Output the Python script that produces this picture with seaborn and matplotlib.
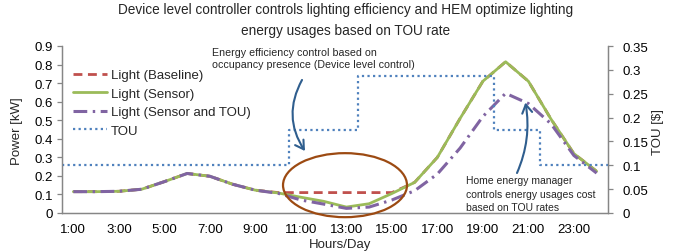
import matplotlib
matplotlib.use("Agg")
import matplotlib.pyplot as plt
from matplotlib.patches import Ellipse
import seaborn as sns
import pandas as pd

# --- data (hourly) ---
hours = list(range(1, 25))
hour_labels = [f"{h}:00" for h in hours]

light_baseline = [0.115, 0.115, 0.117, 0.128, 0.169, 0.213, 0.198, 0.155, 0.123, 0.11,
                  0.11, 0.11, 0.11, 0.11, 0.11, 0.165, 0.30, 0.51, 0.71, 0.815,
                  0.71, 0.505, 0.32, 0.225]
light_sensor = [0.115, 0.115, 0.117, 0.128, 0.169, 0.213, 0.198, 0.155, 0.123, 0.108,
                0.085, 0.063, 0.032, 0.05, 0.105, 0.165, 0.30, 0.51, 0.71, 0.815,
                0.71, 0.505, 0.32, 0.225]
light_sensor_tou = [0.115, 0.115, 0.117, 0.128, 0.169, 0.213, 0.198, 0.155, 0.123, 0.106,
                    0.07, 0.048, 0.025, 0.032, 0.07, 0.12, 0.21, 0.35, 0.52, 0.645,
                    0.59, 0.48, 0.31, 0.215]
tou_rate = [0.1] * 10 + [0.175] * 3 + [0.288] * 6 + [0.175] * 2 + [0.1] * 3

power_ticks = [0, 0.1, 0.2, 0.3, 0.4, 0.5, 0.6, 0.7, 0.8, 0.9]
tou_ticks = [0, 0.05, 0.1, 0.15, 0.2, 0.25, 0.3, 0.35]

df = pd.DataFrame({"hour": hours, "baseline": light_baseline,
                   "sensor": light_sensor, "sensor_tou": light_sensor_tou})
# step edges so the TOU line spans each whole hour
tou_df = pd.DataFrame({"edge": [h - 0.5 for h in hours] + [hours[-1] + 0.5],
                       "rate": tou_rate + [tou_rate[-1]]})

sns.set_theme(style="white")
plt.rcParams['font.family'] = ['Liberation Sans', 'DejaVu Sans']

fig = plt.figure(figsize=(6.91, 2.53), dpi=100)
ax = fig.add_axes([62 / 691, 1 - 214 / 253, 546 / 691, 167 / 253])
ax2 = ax.twinx()

sns.lineplot(data=df, x="hour", y="baseline", ax=ax, color="#C0504D", lw=2.0,
             linestyle=(0, (3.2, 2.0)), label="Light (Baseline)", legend=False)
sns.lineplot(data=df, x="hour", y="sensor", ax=ax, color="#9BBB59", lw=2.0,
             label="Light (Sensor)", legend=False)
sns.lineplot(data=df, x="hour", y="sensor_tou", ax=ax, color="#8064A2", lw=2.2,
             linestyle=(0, (4.5, 1.8, 0.8, 1.8)), label="Light (Sensor and TOU)", legend=False)
sns.lineplot(data=tou_df, x="edge", y="rate", ax=ax2, color="#4F81BD", lw=1.6,
             drawstyle="steps-post", linestyle=(0, (1, 1.5)), label="TOU", legend=False)

ax.set_xlim(0.5, 24.5)
ax.set_ylim(0, 0.9)
ax2.set_ylim(0, 0.35)
ax.set_xticks(hours[::2])
ax.set_xticklabels(hour_labels[::2])
ax.set_yticks(power_ticks)
ax.set_yticklabels([f"{v:g}" for v in power_ticks])
ax2.set_yticks(tou_ticks)
ax2.set_yticklabels([f"{v:g}" for v in tou_ticks])
ax.set_xlabel("")
ax.set_ylabel("")
ax2.set_ylabel("")

for a in (ax, ax2):
    a.spines['top'].set_visible(False)
    for s in ('left', 'right', 'bottom'):
        a.spines[s].set_color('#868686')
        a.spines[s].set_linewidth(0.9)
ax.tick_params(axis='x', bottom=False, pad=1.5, labelsize=9.5, labelcolor='black')
ax.tick_params(axis='y', left=True, length=3.5, width=0.9, color='#868686', pad=3,
               labelsize=9.5, labelcolor='black')
ax2.tick_params(axis='y', right=True, length=3.5, width=0.9, color='#868686', pad=7,
                labelsize=9.5, labelcolor='black')

# legend
h1, l1 = ax.get_legend_handles_labels()
h2, l2 = ax2.get_legend_handles_labels()
ax2.legend(h1 + h2, l1 + l2, loc='upper left', bbox_to_anchor=(0.02, 0.862),
           frameon=False, fontsize=9.5, handlelength=2.6, handletextpad=0.3,
           labelspacing=0.47, borderaxespad=0, borderpad=0)

# annotations
ell = Ellipse((12.94, 0.15), 5.45, 0.345, fill=False, edgecolor='#9C4A12', lw=1.6,
              transform=ax.transData, clip_on=False, zorder=5)
ax2.add_patch(ell)
ax2.annotate("", xy=(11.18, 0.334), xytext=(11.05, 0.717), xycoords=ax.transData,
             textcoords=ax.transData,
             arrowprops=dict(arrowstyle='->,head_length=0.5,head_width=0.3', color='#2F5E8E',
                             lw=1.5, connectionstyle='arc3,rad=0.3', shrinkA=0, shrinkB=0))
ax2.annotate("", xy=(20.87, 0.595), xytext=(20.5, 0.2155), xycoords=ax.transData,
             textcoords=ax.transData,
             arrowprops=dict(arrowstyle='->,head_length=0.5,head_width=0.3', color='#2F5E8E',
                             lw=1.5, connectionstyle='arc3,rad=0.15', shrinkA=0, shrinkB=0))

fig.text(212 / 691, 1 - 48 / 253,
         "Energy efficiency control based on\noccupancy presence (Device level control)",
         fontsize=7.7, ha='left', va='top', linespacing=1.2)
fig.text(466 / 691, 1 - 176 / 253,
         "Home energy manager\ncontrols energy usages cost\nbased on TOU rates",
         fontsize=7.5, ha='left', va='top', linespacing=1.45)

fig.text(0.5, 1 - 3 / 253,
         "Device level controller controls lighting efficiency and HEM optimize lighting\n"
         "energy usages based on TOU rate",
         fontsize=9.8, ha='center', va='top', linespacing=1.6)
fig.text(17 / 691, 1 - 131 / 253, "Power [kW]", rotation=90, fontsize=9.5,
         ha='center', va='center')
fig.text(658 / 691, 1 - 132 / 253, "TOU [$]", rotation=90, fontsize=9.5,
         ha='center', va='center')
fig.text(340 / 691, 1 - 245 / 253, "Hours/Day", fontsize=9.5, ha='center', va='center')

fig.savefig("out.png", dpi=100)
